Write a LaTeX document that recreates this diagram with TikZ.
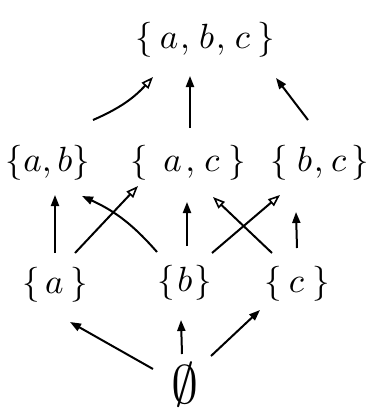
\documentclass[tikz,border=0pt]{standalone}
\usetikzlibrary{arrows.meta,calc}
\begin{document}
\begin{tikzpicture}[x=1pt,y=-1pt,
  setnode/.style={inner sep=0pt,scale=3.5,transform shape},
  arr/.style={line width=2pt,-{Triangle[length=11pt,width=8pt]}},
  oarr/.style={line width=2pt,-{Triangle[open,length=12pt,width=9pt,line width=1.6pt]}}]
\useasboundingbox (0,0) rectangle (374,412);
\node[setnode] (abc) at (205,40) {$\{\hspace{2pt}a\hspace{0.5pt},\hspace{1pt}b\hspace{0.5pt},\hspace{1pt}c\hspace{2pt}\}$};
\node[setnode] (ab) at (48,163) {$\{a,b\}$};
\node[setnode] (ac) at (188,163) {$\{\hspace{4.5pt}a\hspace{1pt},\hspace{1pt}c\hspace{2.5pt}\}$};
\node[setnode] (bc) at (320,163) {$\{\hspace{2.5pt}b\hspace{0.5pt},\hspace{0.5pt}c\hspace{1.5pt}\}$};
\node[setnode] (a) at (55,285) {$\{\hspace{1.5pt}a\hspace{1.9pt}\}$};
\node[setnode] (b) at (185,283) {$\{\hspace{0.6pt}b\hspace{0.6pt}\}$};
\node[setnode] (c) at (297,284) {$\{\hspace{2pt}c\hspace{2.3pt}\}$};
\node[setnode,scale=1.55] (e) at (185,385) {$\emptyset$};
% top layer
\draw[oarr] ($(ab)+(45,-43)$) to[bend right=12] ($(abc)+(-52,37)$);
\draw[arr] ($(ac)+(2,-35)$) -- ($(abc)+(-15,36)$);
\draw[arr] ($(bc)+(-12,-43)$) -- ($(abc)+(71,38)$);
% middle layer
\draw[arr] ($(a)+(0,-32)$) -- ($(ab)+(7,32)$);
\draw[arr] ($(b)+(-28,-31)$) to[bend right=12] ($(ab)+(34,33)$);
\draw[oarr] ($(a)+(20,-32)$) -- ($(ac)+(-50,23)$);
\draw[arr] ($(b)+(2,-37)$) -- ($(ac)+(-1,39)$);
\draw[oarr] ($(c)+(-25,-31)$) -- ($(ac)+(25,34)$);
\draw[oarr] ($(b)+(27,-30)$) -- ($(bc)+(-40,32)$);
\draw[arr] ($(c)+(0,-36)$) -- ($(bc)+(-24,49)$);
% bottom layer
\draw[arr] ($(e)+(-32,-16)$) -- ($(a)+(15,37)$);
\draw[arr] ($(e)+(-3,-31)$) -- ($(b)+(-4,37)$);
\draw[arr] ($(e)+(26,-29)$) -- ($(c)+(-37,26)$);
\end{tikzpicture}
\end{document}
